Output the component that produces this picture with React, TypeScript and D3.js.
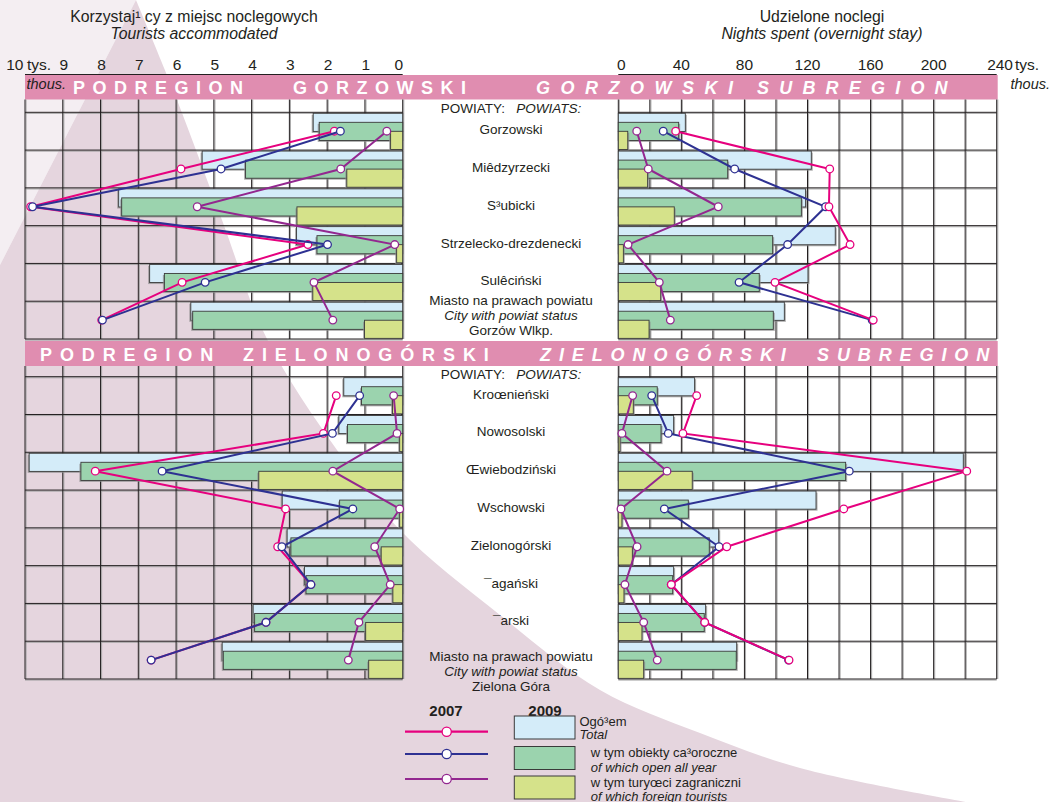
import React from "react";
import * as d3 from "d3";

const FONT = "'Liberation Sans', Arial, Helvetica, sans-serif";

// ---------- texts ----------
const titleLeftPl = "Korzystaj¹ cy z miejsc noclegowych";
const titleLeftEn = "Tourists accommodated";
const titleRightPl = "Udzielone noclegi";
const titleRightEn = "Nights spent (overnight stay)";
const unitPl = "tys.";
const unitEn = "thous.";

// ---------- axes ----------
const touristTicks = [10, 9, 8, 7, 6, 5, 4, 3, 2, 1, 0];
const nightTicks = [0, 40, 80, 120, 160, 200, 240];
const nightGrid = [0, 20, 40, 60, 80, 100, 120, 140, 160, 180, 200, 220, 240];

// ---------- categories ----------
const gorzowskiPowiats = ["Gorzowski", "Miêdzyrzecki", "S³ubicki", "Strzelecko-drezdenecki", "Sulêciński", "Gorzów Wlkp."];
const zielonogorskiPowiats = ["Kroœnieński", "Nowosolski", "Œwiebodziński", "Wschowski", "Zielonogórski", "¯agański", "¯arski", "Zielona Góra"];

// ---------- Gorzowski subregion: tourists (thous.) ----------
const gTourTotal2009 = [2.37, 5.31, 7.52, 2.81, 6.70, 5.61];
const gTourOpen2009 = [2.21, 4.16, 7.44, 2.27, 6.31, 5.56];
const gTourForeign2009 = [0.32, 1.48, 2.80, 0.16, 2.38, 1.01];
const gTourTotal2007 = [1.81, 5.87, 9.85, 2.51, 5.84, 7.97];
const gTourOpen2007 = [1.65, 4.81, 9.80, 1.99, 5.23, 7.95];
const gTourForeign2007 = [0.42, 1.64, 5.44, 0.21, 2.35, 1.85];

// ---------- Gorzowski subregion: nights (thous.) ----------
const gNightTotal2009 = [42.5, 122.4, 118.8, 137.6, 120.3, 105.3];
const gNightOpen2009 = [38.3, 69.4, 116.1, 97.9, 89.4, 98.3];
const gNightForeign2009 = [6.0, 18.6, 35.5, 3.2, 26.9, 19.5];
const gNightTotal2007 = [36.4, 134.1, 133.6, 147.0, 99.4, 161.7];
const gNightOpen2007 = [28.5, 73.8, 131.5, 107.4, 76.6, 161.0];
const gNightForeign2007 = [11.7, 19.0, 63.4, 6.2, 26.0, 33.0];

// ---------- Zielonogorski subregion: tourists (thous.) ----------
const zTourTotal2009 = [1.56, 1.69, 9.89, 3.19, 3.06, 2.60, 3.96, 4.78];
const zTourOpen2009 = [1.09, 1.46, 8.52, 1.67, 2.96, 2.56, 3.92, 4.75];
const zTourForeign2009 = [0.27, 0.08, 3.81, 0.08, 0.57, 0.26, 0.98, 0.90];
const zTourTotal2007 = [1.76, 2.10, 8.14, 3.10, 3.31, 2.43, 3.62, 6.66];
const zTourOpen2007 = [1.14, 1.86, 6.37, 1.32, 3.20, 2.43, 3.62, 6.66];
const zTourForeign2007 = [0.24, 0.15, 1.85, 0.08, 0.74, 0.33, 1.16, 1.44];

// ---------- Zielonogorski subregion: nights (thous.) ----------
const zNightTotal2009 = [48.4, 35.1, 218.8, 125.4, 63.7, 35.1, 55.4, 75.1];
const zNightOpen2009 = [24.7, 27.1, 144.2, 44.4, 57.7, 34.5, 54.5, 74.8];
const zNightForeign2009 = [9.5, 1.1, 46.9, 2.3, 8.9, 3.6, 15.0, 16.1];
const zNightTotal2007 = [49.7, 41.0, 221.0, 143.0, 68.8, 33.6, 54.8, 108.3];
const zNightOpen2007 = [21.2, 31.7, 146.5, 29.2, 63.9, 33.6, 54.8, 108.0];
const zNightForeign2007 = [9.1, 2.3, 30.9, 1.7, 11.9, 4.2, 16.1, 24.7];

// ---------- legend ----------
const legendYears = ["2007", "2009"];
const legendPl = ["Ogó³em", "w tym obiekty ca³oroczne", "w tym turyœci zagraniczni"];
const legendEn = ["Total", "of which open all year", "of which foreign tourists"];
const cityLinePl = "Miasto na prawach powiatu";
const cityLineEn = "City with powiat status";

// ---------- colours ----------
const C_TOTAL = "#d4ecf9";
const C_OPEN = "#9bd3ae";
const C_FOREIGN = "#d5e28a";
const C_PINK = "#e6007e";
const C_BLUE = "#2e3192";
const C_PURPLE = "#93278f";
const C_BANNER = "#e08db0";
const C_GRID = "#231f20";
const C_TEXT = "#231f20";
const C_MAUVE = "#e5d5de";
const C_LIGHT = "#f4eef2";

const W = 1061;
const H = 802;

const xL = d3.scaleLinear().domain([0, 10]).range([402.7, 25]);
const xR = d3.scaleLinear().domain([0, 240]).range([618.3, 996.7]);

const LABEL_FS = 13.5;
const TICK_FS = 15.5;
const TITLE_FS = 15.8;
const LEGEND_FS = 13;

type SectionProps = {
  id: string;
  names: string[];
  range: [number, number];
  gridTop: number;
  tour: number[][]; // total09, open09, foreign09, total07, open07, foreign07
  night: number[][];
  cityDy: number;
};

function Section({ id, names, range, gridTop, tour, night, cityDy }: SectionProps) {
  const y = d3.scaleBand<string>().domain(names).range(range).padding(0);
  const bw = y.bandwidth();
  const bottom = range[1];
  const rowLines = names.map((n) => y(n) as number).concat([bottom]);
  const barH = bw * 0.48;
  const offs = [bw * 0.026, bw * 0.265, bw * 0.503];
  const barColors = [C_TOTAL, C_OPEN, C_FOREIGN];
  const cy = (i: number) => (y(names[i]) as number) + bw / 2;

  const lineGen = (xs: d3.ScaleLinear<number, number>, vals: number[]) =>
    d3
      .line<number>()
      .x((v) => xs(v))
      .y((_, i) => cy(i))(vals) as string;

  const seriesL = [
    { vals: tour[3], color: C_PINK },
    { vals: tour[4], color: C_BLUE },
    { vals: tour[5], color: C_PURPLE },
  ];
  const seriesR = [
    { vals: night[4], color: C_BLUE },
    { vals: night[3], color: C_PINK },
    { vals: night[5], color: C_PURPLE },
  ];

  return (
    <g key={id}>
      {/* grid shadows */}
      {touristTicks.map((t) => (
        <line key={"ls" + t} x1={xL(t) + 1.1} x2={xL(t) + 1.1} y1={gridTop} y2={bottom} stroke="#a0a0a0" strokeWidth={0.9} />
      ))}
      {nightGrid.map((t) => (
        <line key={"rs" + t} x1={xR(t) + 1.1} x2={xR(t) + 1.1} y1={gridTop} y2={bottom} stroke="#a0a0a0" strokeWidth={0.9} />
      ))}
      {rowLines.map((r, i) => (
        <g key={"hs" + i}>
          <line x1={xL(10)} x2={xL(0)} y1={r + 1.1} y2={r + 1.1} stroke="#a0a0a0" strokeWidth={0.9} />
          <line x1={xR(0)} x2={xR(240)} y1={r + 1.1} y2={r + 1.1} stroke="#a0a0a0" strokeWidth={0.9} />
        </g>
      ))}
      {/* grid */}
      {touristTicks.map((t) => (
        <line key={"lg" + t} x1={xL(t)} x2={xL(t)} y1={gridTop} y2={bottom} stroke={C_GRID} strokeWidth={1} />
      ))}
      {nightGrid.map((t) => (
        <line key={"rg" + t} x1={xR(t)} x2={xR(t)} y1={gridTop} y2={bottom} stroke={C_GRID} strokeWidth={1} />
      ))}
      {rowLines.map((r, i) => (
        <g key={"hg" + i}>
          <line x1={xL(10)} x2={xL(0)} y1={r} y2={r} stroke={C_GRID} strokeWidth={1} />
          <line x1={xR(0)} x2={xR(240)} y1={r} y2={r} stroke={C_GRID} strokeWidth={1} />
        </g>
      ))}

      {/* bars */}
      {names.map((n, i) => {
        const top = y(n) as number;
        return (
          <g key={"bars" + i}>
            {[0, 1, 2].map((k) => {
              const vL = tour[k][i];
              const vR = night[k][i];
              const by = top + offs[k];
              return (
                <g key={k}>
                  <rect x={xL(vL) - 1.5} y={by + 1.5} width={xL(0) - xL(vL)} height={barH} fill="#8c8c8c" opacity={0.7} />
                  <rect x={xL(vL)} y={by} width={xL(0) - xL(vL)} height={barH} fill={barColors[k]} stroke="#3a3a3a" strokeWidth={0.9} />
                  <rect x={xR(0) + 1.5} y={by + 1.5} width={xR(vR) - xR(0)} height={barH} fill="#8c8c8c" opacity={0.7} />
                  <rect x={xR(0)} y={by} width={xR(vR) - xR(0)} height={barH} fill={barColors[k]} stroke="#3a3a3a" strokeWidth={0.9} />
                </g>
              );
            })}
          </g>
        );
      })}

      {/* lines with markers */}
      {seriesL.map((s, si) => (
        <g key={"sl" + si}>
          <path d={lineGen(xL, s.vals)} fill="none" stroke={s.color} strokeWidth={2} />
          {s.vals.map((v, i) => (
            <circle key={i} cx={xL(v)} cy={cy(i)} r={3.8} fill="#fff" stroke={s.color} strokeWidth={1.3} />
          ))}
        </g>
      ))}
      {seriesR.map((s, si) => (
        <g key={"sr" + si}>
          <path d={lineGen(xR, s.vals)} fill="none" stroke={s.color} strokeWidth={2} />
          {s.vals.map((v, i) => (
            <circle key={i} cx={xR(v)} cy={cy(i)} r={3.8} fill="#fff" stroke={s.color} strokeWidth={1.3} />
          ))}
        </g>
      ))}

      {/* center labels */}
      <text x={511} y={gridTop + 13} textAnchor="middle" fontSize={LABEL_FS} fill={C_TEXT} fontFamily={FONT} style={{ whiteSpace: "pre" }}>
        POWIATY:{"   "}
        <tspan fontStyle="italic">POWIATS:</tspan>
      </text>
      {names.map((n, i) => {
        const isCity = i === names.length - 1;
        if (isCity) {
          const y0 = cy(i) + cityDy;
          return (
            <text key={"lab" + i} x={511} textAnchor="middle" fontSize={LABEL_FS} fill={C_TEXT} fontFamily={FONT}>
              <tspan x={511} y={y0}>{cityLinePl}</tspan>
              <tspan x={511} y={y0 + 14.8} fontStyle="italic">{cityLineEn}</tspan>
              <tspan x={511} y={y0 + 29.6}>{n}</tspan>
            </text>
          );
        }
        return (
          <text key={"lab" + i} x={511} y={cy(i) + 3} textAnchor="middle" fontSize={LABEL_FS} fill={C_TEXT} fontFamily={FONT}>
            {n}
          </text>
        );
      })}
    </g>
  );
}

function BannerText({ x, y, text, ls, italic }: { x: number; y: number; text: string; ls: number; italic?: boolean }) {
  return (
    <text
      x={x}
      y={y}
      fontSize={18}
      fontWeight="bold"
      fontStyle={italic ? "italic" : "normal"}
      fill="#fff"
      fontFamily={FONT}
      style={{ letterSpacing: ls + "px" }}
    >
      {text}
    </text>
  );
}

export default function App() {
  // decorative background shape
  const boundary: [number, number][] = [
    [136, 0],
    [177, 100],
    [222, 220],
    [267, 339],
    [337, 450],
    [400, 530],
    [500, 615],
    [600, 690],
    [700, 733],
    [800, 768],
    [966, 802],
  ];
  const bgLine = d3.line().curve(d3.curveCatmullRom)(boundary) as string;
  const bgPath = bgLine + `L${0},${H}L0,265Z`;

  const legendRowsY = [731.7, 754, 779];
  const legendColors = [C_PINK, C_BLUE, C_PURPLE];
  const legendBoxY = [716, 746.5, 776];
  const legendBoxColors = [C_TOTAL, C_OPEN, C_FOREIGN];

  return (
    <div style={{ position: "absolute", left: 0, top: 0 }}>
      <svg width={W} height={H} style={{ display: "block" }} fontFamily={FONT}>
        <rect x={0} y={0} width={W} height={H} fill="#fff" />
        <path d={`M0,0L136,0L0,265Z`} fill={C_LIGHT} />
        <path d={bgPath} fill={C_MAUVE} />

        {/* titles */}
        <text x={194} y={21.5} textAnchor="middle" fontSize={TITLE_FS} fill={C_TEXT}>{titleLeftPl}</text>
        <text x={194} y={38.5} textAnchor="middle" fontSize={TITLE_FS} fontStyle="italic" fill={C_TEXT}>{titleLeftEn}</text>
        <text x={822} y={21.5} textAnchor="middle" fontSize={TITLE_FS} fill={C_TEXT}>{titleRightPl}</text>
        <text x={822} y={38.5} textAnchor="middle" fontSize={TITLE_FS} fontStyle="italic" fill={C_TEXT}>{titleRightEn}</text>

        {/* axis tick labels */}
        {touristTicks.map((t) =>
          t === 10 ? (
            <g key={"tt" + t}>
              <text x={xL(t) - 1.5} y={70} textAnchor="end" fontSize={TICK_FS} fill={C_TEXT}>{t}</text>
              <text x={xL(t) + 2} y={70} fontSize={TICK_FS} fill={C_TEXT}>{unitPl}</text>
            </g>
          ) : (
            <text key={"tt" + t} x={xL(t) + (t === 0 ? -4 : 1)} y={70} textAnchor="middle" fontSize={TICK_FS} fill={C_TEXT}>{t}</text>
          )
        )}
        {nightTicks.map((t) =>
          t === 240 ? (
            <g key={"nt" + t}>
              <text x={1013} y={70} textAnchor="end" fontSize={TICK_FS} fill={C_TEXT}>{t}</text>
              <text x={1015} y={70} fontSize={TICK_FS} fill={C_TEXT}>{unitPl}</text>
            </g>
          ) : (
            <text key={"nt" + t} x={xR(t) + (t === 0 ? 3 : 0)} y={70} textAnchor="middle" fontSize={TICK_FS} fill={C_TEXT}>{t}</text>
          )
        )}
        <line x1={xL(10)} x2={xL(0)} y1={74.5} y2={74.5} stroke={C_GRID} strokeWidth={1} />
        <line x1={xR(0)} x2={xR(240)} y1={74.5} y2={74.5} stroke={C_GRID} strokeWidth={1} />

        {/* banners */}
        <rect x={25} y={75} width={972.7} height={24.5} fill={C_BANNER} />
        <text x={26.5} y={88.5} fontSize={14.5} fontStyle="italic" fill={C_TEXT}>{unitEn}</text>
        <text x={1010.5} y={88.5} fontSize={14.5} fontStyle="italic" fill={C_TEXT}>{unitEn}</text>
        <BannerText x={73} y={94} text="PODREGION" ls={7.5} />
        <BannerText x={293} y={94} text="GORZOWSKI" ls={7.5} />
        <BannerText x={536} y={94} text="GORZOWSKI" ls={10.5} italic />
        <BannerText x={757} y={94} text="SUBREGION" ls={10.2} italic />

        <rect x={25} y={341} width={972.7} height={25} fill={C_BANNER} />
        <BannerText x={40} y={360.7} text="PODREGION" ls={7.9} />
        <BannerText x={243} y={360.7} text="ZIELONOGÓRSKI" ls={7.9} />
        <BannerText x={540} y={360.7} text="ZIELONOGÓRSKI" ls={7.9} italic />
        <BannerText x={817} y={360.7} text="SUBREGION" ls={7.9} italic />

        <Section
          id="g"
          names={gorzowskiPowiats}
          range={[112.3, 339]}
          gridTop={99.5}
          tour={[gTourTotal2009, gTourOpen2009, gTourForeign2009, gTourTotal2007, gTourOpen2007, gTourForeign2007]}
          night={[gNightTotal2009, gNightOpen2009, gNightForeign2009, gNightTotal2007, gNightOpen2007, gNightForeign2007]}
          cityDy={-15}
        />
        <Section
          id="z"
          names={zielonogorskiPowiats}
          range={[376.7, 679]}
          gridTop={366}
          tour={[zTourTotal2009, zTourOpen2009, zTourForeign2009, zTourTotal2007, zTourOpen2007, zTourForeign2007]}
          night={[zNightTotal2009, zNightOpen2009, zNightForeign2009, zNightTotal2007, zNightOpen2007, zNightForeign2007]}
          cityDy={1}
        />

        {/* legend */}
        <text x={446} y={716} textAnchor="middle" fontSize={15} fontWeight="bold" fill={C_TEXT}>{legendYears[0]}</text>
        <text x={545} y={716} textAnchor="middle" fontSize={15} fontWeight="bold" fill={C_TEXT}>{legendYears[1]}</text>
        {legendRowsY.map((ly, i) => (
          <g key={"lg" + i}>
            <line x1={405} x2={488} y1={ly} y2={ly} stroke={legendColors[i]} strokeWidth={2.2} />
            <circle cx={446.7} cy={ly} r={4.6} fill="#fff" stroke={legendColors[i]} strokeWidth={1.3} />
          </g>
        ))}
        {legendBoxY.map((by, i) => (
          <rect key={"lb" + i} x={514.3} y={by} width={60.7} height={23} fill={legendBoxColors[i]} stroke="#3a3a3a" strokeWidth={1} />
        ))}
        <text x={579.5} y={725.5} fontSize={LEGEND_FS} fill={C_TEXT}>{legendPl[0]}</text>
        <text x={579.5} y={738.5} fontSize={LEGEND_FS} fontStyle="italic" fill={C_TEXT}>{legendEn[0]}</text>
        <text x={590.7} y={757} fontSize={LEGEND_FS} fill={C_TEXT}>{legendPl[1]}</text>
        <text x={590.7} y={771.5} fontSize={LEGEND_FS} fontStyle="italic" fill={C_TEXT}>{legendEn[1]}</text>
        <text x={590.7} y={787} fontSize={LEGEND_FS} fill={C_TEXT}>{legendPl[2]}</text>
        <text x={590.7} y={800.5} fontSize={LEGEND_FS} fontStyle="italic" fill={C_TEXT}>{legendEn[2]}</text>
      </svg>
    </div>
  );
}
